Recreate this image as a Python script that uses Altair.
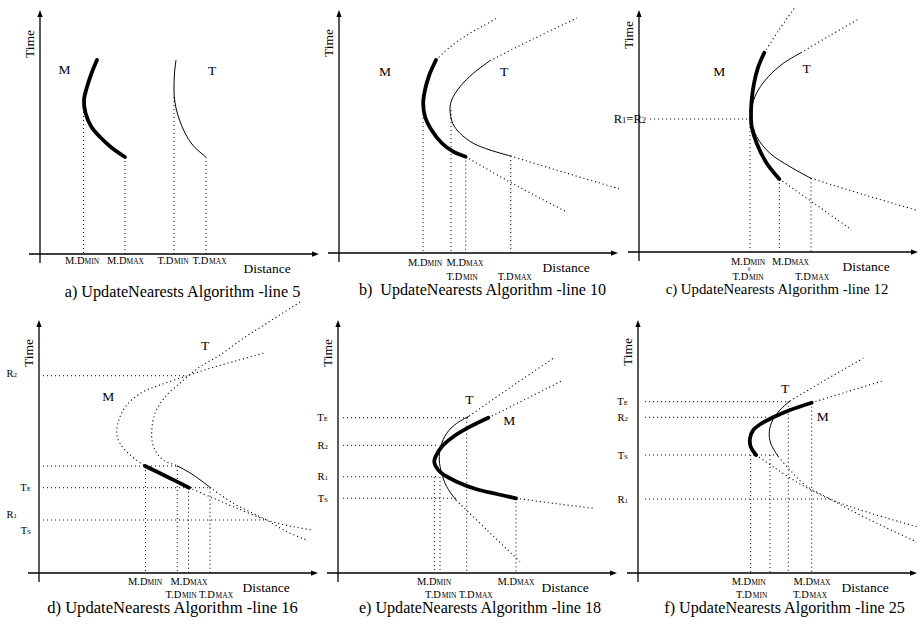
import altair as alt
import pandas as pd

W, H = 923, 630
FONT = "Liberation Serif"

# Where the Distance and Time axes of each panel cross on the canvas (px from left, px from top)
origin = {"a": (40, 254), "b": (339, 253), "c": (639, 252),
          "d": (39, 573), "e": (338, 573), "f": (638, 573)}
time_top = {"a": 244, "b": 243, "c": 242, "d": 253, "e": 253, "f": 253}
DIST_END = 279

# ---------------- trajectories as (distance, time) ----------------
# a) line 5
a_M = [(57, 194), (52, 182), (47, 167), (44, 154), (45.5, 141), (51.5, 127), (60, 117), (72, 106), (85, 97)]
a_T = [(136, 194), (134.5, 181), (134, 167), (134.3, 157), (136, 146), (139.5, 134), (145, 121), (153.5, 108), (166, 97)]

# b) line 10
b_M = [(97, 193), (90.3, 178), (86, 163), (84.2, 150), (86, 136.5), (92.5, 123), (102.7, 110), (114.3, 101.3), (126.7, 96.3)]
b_M_later = [(97, 193), (111, 206), (128, 218), (144, 227), (158, 235)]
b_M_earlier = [(126.7, 96.3), (160, 77), (193, 59), (226, 42)]
b_T = [(151, 192.3), (134.3, 179.7), (121, 166.3), (112.7, 153), (111, 143), (113.7, 129.7), (121, 119.7), (134.3, 109.7), (151, 103), (171.7, 97)]
b_T_later = [(151, 192.3), (194, 214), (238, 235)]
b_T_earlier = [(171.7, 97), (227, 80), (281, 64)]

# c) line 12
c_M = [(125.3, 199.3), (119.3, 185.3), (115, 168.7), (112.7, 152), (112, 138.7), (112.7, 125.3), (117.7, 108.7), (127.7, 88.7), (140.3, 73)]
c_M_later = [(125.3, 199.3), (140, 222), (156, 244.7)]
c_M_earlier = [(140.3, 73), (176, 48), (212.7, 22)]
c_T = [(162, 199.3), (144.3, 188.7), (129.3, 175.3), (119.3, 162), (113.7, 148.7), (112, 134), (117.7, 115.3), (131, 98.7), (151, 85.3), (172, 73.7)]
c_T_later = [(162, 199.3), (190, 216), (219.3, 232.7)]
c_T_earlier = [(172, 73.7), (226, 57), (279.3, 41.3)]

# d) line 16
d_M_later = [(224.3, 219.7), (197.7, 212.3), (171, 204.7), (148.3, 197.3), (121, 188), (104.3, 181.3),
             (89.3, 169.7), (81, 156.3), (77.7, 139.7), (81, 129.7), (91, 118), (106, 107)]
d_M = [(106, 107), (128, 96.3), (150, 85.3)]
d_M_earlier = [(150, 85.3), (171, 76.3), (194.3, 66.3), (227.7, 53), (254.3, 46.3), (274.3, 43)]
d_T_later = [(261, 271), (227.7, 249.7), (204.3, 234.7), (181, 218), (161, 206.3), (148.3, 196.3), (141, 189.7),
             (127.7, 178), (116, 159.7), (112.7, 136.3), (116, 123), (124.3, 113), (138.3, 107.3)]
d_T = [(138.3, 107.3), (154.3, 98), (171, 85.7)]
d_T_earlier = [(171, 85.7), (194.3, 69.7), (214.3, 59.7), (227.7, 53), (247.7, 41.3), (267.7, 33)]

# e) line 18
e_M = [(150.3, 155.3), (132, 146.3), (115.3, 136.3), (103.7, 126.3), (97.5, 116.3), (96.3, 112), (97.5, 107),
       (103.7, 99.7), (118.7, 91.3), (138.7, 83.7), (158.7, 79), (178, 74.7)]
e_M_later = [(150.3, 155.3), (188, 174), (225.3, 193)]
e_M_earlier = [(178, 74.7), (217, 69.5), (255.3, 64.7)]
e_T = [(131.3, 157), (118.7, 149.7), (108.7, 139.7), (102.7, 126.3), (101.3, 113), (103.7, 99.7), (108.7, 86.3), (118, 73)]
e_T_later = [(131.3, 157), (173, 186), (215.3, 214.7)]
e_T_earlier = [(118, 73), (150, 42), (182, 11.3)]

# f) line 25
f_M = [(118, 118), (112.7, 126.3), (112, 134.7), (115.3, 143), (123.7, 149.7), (135.3, 155.7), (152, 163), (173.7, 170.3)]
f_M_later = [(173.7, 170.3), (210, 181.5), (245.3, 192.3)]
f_M_earlier = [(118, 118), (137, 105), (162, 89), (192, 74), (232, 60), (280, 46)]
f_T = [(152, 172), (142, 163), (134.7, 153), (131.3, 141.3), (132.7, 129.7), (140.3, 116.3)]
f_T_later = [(152, 172), (189, 194), (225.3, 214.7)]
f_T_earlier = [(140.3, 116.3), (152, 103), (167, 88), (192, 74), (232, 53), (279, 31)]

curves = [
    ("a", a_M, "thick"), ("a", a_T, "thin"),
    ("b", b_M, "thick"), ("b", b_M_later, "dotted"), ("b", b_M_earlier, "dotted"),
    ("b", b_T, "thin"), ("b", b_T_later, "dotted"), ("b", b_T_earlier, "dotted"),
    ("c", c_M, "thick"), ("c", c_M_later, "dotted"), ("c", c_M_earlier, "dotted"),
    ("c", c_T, "thin"), ("c", c_T_later, "dotted"), ("c", c_T_earlier, "dotted"),
    ("d", d_M, "thick"), ("d", d_M_later, "dotted"), ("d", d_M_earlier, "dotted"),
    ("d", d_T, "thin"), ("d", d_T_later, "dotted"), ("d", d_T_earlier, "dotted"),
    ("e", e_M, "thick"), ("e", e_M_later, "dotted"), ("e", e_M_earlier, "dotted"),
    ("e", e_T, "thin"), ("e", e_T_later, "dotted"), ("e", e_T_earlier, "dotted"),
    ("f", f_M, "thick"), ("f", f_M_later, "dotted"), ("f", f_M_earlier, "dotted"),
    ("f", f_T, "thin"), ("f", f_T_later, "dotted"), ("f", f_T_earlier, "dotted"),
]

# ---------------- dotted guide lines ----------------
# drop lines down to the Distance axis: (distance, starting time)
drops = {
    "a": [(43.5, 150), (85, 97), (134, 157), (166, 97)],
    "b": [(84, 147), (112, 143), (126.7, 96.3), (171.7, 97)],
    "c": [(111, 133), (140.3, 73), (172, 73.7)],
    "d": [(106.5, 107), (138.3, 107), (149.5, 85.3), (171, 85.3)],
    "e": [(96.3, 96), (102, 96), (128.7, 155.3), (178, 74.7)],
    "f": [(112.7, 118), (132, 118), (150.3, 171.3), (173.7, 170.3)],
}
# lines across to the Time axis: (time, from distance, to distance)
acrosses = {
    "c": [(133, 11, 111)],
    "d": [(197.3, 4, 148.3), (107, 4, 138.3), (85.3, 4, 171), (53, 4, 227.7)],
    "e": [(155.3, 5, 131.3), (127.7, 5, 101.3), (96.3, 5, 98), (74.7, 5, 118)],
    "f": [(171.3, 7, 152), (155.7, 7, 135.3), (118, 7, 140.3), (74, 7, 192)],
}

# ---------------- labels ----------------
# Distance-axis labels: "main|smallcaps", centre distance, row
ticks = {
    "a": [("M.D|MIN", 42, 1), ("M.D|MAX", 85.5, 1), ("T.D|MIN", 133, 1), ("T.D|MAX", 169.5, 1)],
    "b": [("M.D|MIN", 86, 1), ("M.D|MAX", 126, 1), ("T.D|MIN", 123, 2), ("T.D|MAX", 175.7, 2)],
    "c": [("M.D|MIN", 109, 1), ("M.D|MAX", 151.5, 1), ("T.D|MIN", 109, 2), ("T.D|MAX", 173, 2)],
    "d": [("M.D|MIN", 106, 1), ("M.D|MAX", 150, 1), ("T.D|MIN", 142, 2), ("T.D|MAX", 177, 2)],
    "e": [("M.D|MIN", 96, 1), ("M.D|MAX", 178, 1), ("T.D|MIN", 102.7, 2), ("T.D|MAX", 137.7, 2)],
    "f": [("M.D|MIN", 110.7, 1), ("M.D|MAX", 174, 1), ("T.D|MIN", 113.7, 2), ("T.D|MAX", 172, 2)],
}
tick_rows = {"a": (-9.5, -24), "b": (-13, -26.5), "c": (-13, -28),
             "d": (-11.5, -24.5), "e": (-11.5, -24.5), "f": (-11.5, -24.5)}

# Time-axis labels: "main|sub", right edge distance, centre time, main size, sub size
time_marks = {
    "c": [("R|1|=R|2", 7, 133, 12.5, 8.5)],
    "d": [("R|2", -22, 199.7, 10.5, 7), ("T|E", -8, 85.3, 10.5, 7),
          ("R|1", -22, 58.7, 10.5, 7), ("T|S", -8, 43, 10.5, 7)],
    "e": [("T|E", -10, 155.3, 10.5, 7), ("R|2", -10, 127.7, 10.5, 7),
          ("R|1", -10, 96.3, 10.5, 7), ("T|S", -10, 74.7, 10.5, 7)],
    "f": [("T|E", -10, 171.3, 10.5, 7), ("R|2", -10, 155.7, 10.5, 7),
          ("T|S", -10, 118, 10.5, 7), ("R|1", -10, 74, 10.5, 7)],
}

# object names next to the trajectories: (name, distance, time)
names = {
    "a": [("M", 24.5, 185), ("T", 172, 184)],
    "b": [("M", 46, 181.3), ("T", 165, 181.3)],
    "c": [("M", 80.3, 180.3), ("T", 167.7, 183.7)],
    "d": [("M", 69.3, 177), ("T", 166, 228)],
    "e": [("T", 131.3, 173.7), ("M", 171.3, 153)],
    "f": [("T", 147, 184.7), ("M", 184.7, 157)],
}

captions = {
    "a": "a) UpdateNearests Algorithm -line 5",
    "b": "b)\u00a0 UpdateNearests Algorithm -line 10",
    "c": "c) UpdateNearests Algorithm -line 12",
    "d": "d) UpdateNearests Algorithm -line 16",
    "e": "e) UpdateNearests Algorithm -line 18",
    "f": "f) UpdateNearests Algorithm -line 25",
}
caption_center = {"a": 142.5, "b": 143.5, "c": 138, "d": 133.5, "e": 142, "f": 146.5}
caption_size = {"a": 16.2, "b": 16.1, "c": 14.8, "d": 16.6, "e": 16.1, "f": 16.1}
caption_base = {"a": -42.5, "b": -42, "c": -42, "d": -40, "e": -40, "f": -40}
time_title_center = {"a": 210, "b": 210, "c": 217, "d": 220, "e": 220, "f": 221}

# Times-compatible advance widths (per em) for the composed labels
GLYPH = {"M": .889, ".": .25, "D": .722, "I": .333, "N": .722, "A": .722, "X": .722,
         "T": .611, "R": .667, "E": .611, "S": .556, "1": .5, "2": .5, "=": .564}


def to_canvas(panel, d, t):
    ox, oy = origin[panel]
    return ox + d, (H - oy) + t


def compose(text, anchor, base, align, big, small):
    parts = text.split("|")
    sizes = [big if i % 2 == 0 else small for i in range(len(parts))]
    widths = [sum(GLYPH[ch] for ch in p) * s for p, s in zip(parts, sizes)]
    total = sum(widths)
    x = anchor - total if align == "right" else anchor - total / 2 if align == "center" else anchor
    out = []
    for p, s, w in zip(parts, sizes, widths):
        out.append((p, x, base, s))
        x += w
    return out


# ---------------- tables ----------------
curve_rows = []
for k, (panel, pts, style) in enumerate(curves):
    for i, (d, t) in enumerate(pts):
        x, y = to_canvas(panel, d, t)
        curve_rows.append(dict(curve=k, i=i, x=x, y=y, style=style))
curve_df = pd.DataFrame(curve_rows)

axis_rows, arrow_rows, guide_rows = [], [], []
for p in origin:
    x0, y0 = to_canvas(p, 0, -9)
    x1, y1 = to_canvas(p, 0, time_top[p] - 4)
    axis_rows.append(dict(x=x0, y=y0, x2=x1, y2=y1))
    x0, y0 = to_canvas(p, -11, 0)
    x1, y1 = to_canvas(p, DIST_END - 4, 0)
    axis_rows.append(dict(x=x0, y=y0, x2=x1, y2=y1))
    ax, ay = to_canvas(p, 0, time_top[p] - 3.5)
    arrow_rows.append(dict(x=ax, y=ay, dir="up"))
    ax, ay = to_canvas(p, DIST_END - 3.5, 0)
    arrow_rows.append(dict(x=ax, y=ay, dir="right"))
    for d, t in drops.get(p, []):
        x0, y0 = to_canvas(p, d, t)
        x1, y1 = to_canvas(p, d, 0)
        guide_rows.append(dict(x=x0, y=y0, x2=x1, y2=y1))
    for t, d0, d1 in acrosses.get(p, []):
        x0, y0 = to_canvas(p, d0, t)
        x1, y1 = to_canvas(p, d1, t)
        guide_rows.append(dict(x=x0, y=y0, x2=x1, y2=y1))
axis_df = pd.DataFrame(axis_rows)
arrow_df = pd.DataFrame(arrow_rows)
guide_df = pd.DataFrame(guide_rows)

piece_rows, center_rows, rot_rows = [], [], []
for p in origin:
    for text, dc, row in ticks[p]:
        base = tick_rows[p][row - 1]
        for s, d, t, size in compose(text, dc, base, "center", 10.5, 7.5):
            x, y = to_canvas(p, d, t)
            piece_rows.append(dict(x=x, y=y, text=s, size=size))
    for text, dr, tc, big, small in time_marks.get(p, []):
        for s, d, t, size in compose(text, dr, tc - big / 3, "right", big, small):
            x, y = to_canvas(p, d, t)
            piece_rows.append(dict(x=x, y=y, text=s, size=size))
    for name, d, t in names[p]:
        x, y = to_canvas(p, d, t - 4.5)
        center_rows.append(dict(x=x, y=y, text=name, size=13.5))
    x, y = to_canvas(p, 227, -18.5)
    center_rows.append(dict(x=x, y=y, text="Distance", size=13.5))
    x, y = to_canvas(p, caption_center[p], caption_base[p])
    center_rows.append(dict(x=x, y=y, text=captions[p], size=caption_size[p]))
    x, y = to_canvas(p, -6, time_title_center[p])
    rot_rows.append(dict(x=x, y=y, text="Time", size=13.5, angle=270))
piece_df = pd.DataFrame(piece_rows)
center_df = pd.DataFrame(center_rows)
rot_df = pd.DataFrame(rot_rows)
ex, ey = to_canvas("c", 109, -17)
eq_df = pd.DataFrame([dict(x=ex, y=ey, text="=", size=8, angle=90)])

# ---------------- chart ----------------
xs = alt.Scale(domain=[0, W], nice=False, zero=False)
ys = alt.Scale(domain=[0, H], nice=False, zero=False)
X = alt.X("x:Q", scale=xs, axis=None)
Y = alt.Y("y:Q", scale=ys, axis=None)
DOT = [1.1, 2.9]

guides = alt.Chart(guide_df).mark_rule(color="#111", strokeWidth=1, strokeDash=DOT).encode(
    x=X, y=Y, x2="x2:Q", y2="y2:Q")
axes = alt.Chart(axis_df).mark_rule(color="black", strokeWidth=1.3).encode(
    x=X, y=Y, x2="x2:Q", y2="y2:Q")


def traj(style, **kw):
    return alt.Chart(curve_df).transform_filter(alt.datum.style == style).mark_line(
        interpolate="catmull-rom", color="black", **kw).encode(
        x=X, y=Y, detail="curve:N", order="i:Q")


dotted = traj("dotted", strokeWidth=1.1, strokeDash=DOT)
thin = traj("thin", strokeWidth=1.0)
thick = traj("thick", strokeWidth=3.8, strokeCap="round")

arrow_up = alt.Chart(arrow_df).transform_filter(alt.datum.dir == "up").mark_point(
    shape="M0,-1L0.75,1L-0.75,1Z", size=49, filled=True, color="black", opacity=1).encode(x=X, y=Y)
arrow_right = alt.Chart(arrow_df).transform_filter(alt.datum.dir == "right").mark_point(
    shape="M1,0L-1,0.75L-1,-0.75Z", size=49, filled=True, color="black", opacity=1).encode(x=X, y=Y)

pieces = alt.Chart(piece_df).mark_text(align="left", baseline="alphabetic", font=FONT, color="black").encode(
    x=X, y=Y, text="text:N", size=alt.Size("size:Q", scale=None))
centered = alt.Chart(center_df).mark_text(align="center", baseline="alphabetic", font=FONT, color="black").encode(
    x=X, y=Y, text="text:N", size=alt.Size("size:Q", scale=None))
rotated = alt.Chart(rot_df).mark_text(align="center", baseline="alphabetic", font=FONT, color="black").encode(
    x=X, y=Y, text="text:N", size=alt.Size("size:Q", scale=None), angle=alt.Angle("angle:Q", scale=None))
equal_sign = alt.Chart(eq_df).mark_text(align="center", baseline="middle", font=FONT, color="black").encode(
    x=X, y=Y, text="text:N", size=alt.Size("size:Q", scale=None), angle=alt.Angle("angle:Q", scale=None))

chart = alt.layer(
    guides, axes, dotted, thin, thick, arrow_up, arrow_right, pieces, centered, rotated, equal_sign
).properties(
    width=W, height=H, autosize=alt.AutoSizeParams(type="none"), padding=0, background="white"
).configure_view(strokeWidth=0)

chart.save("out.html", embed_options={"renderer": "svg", "actions": False})
